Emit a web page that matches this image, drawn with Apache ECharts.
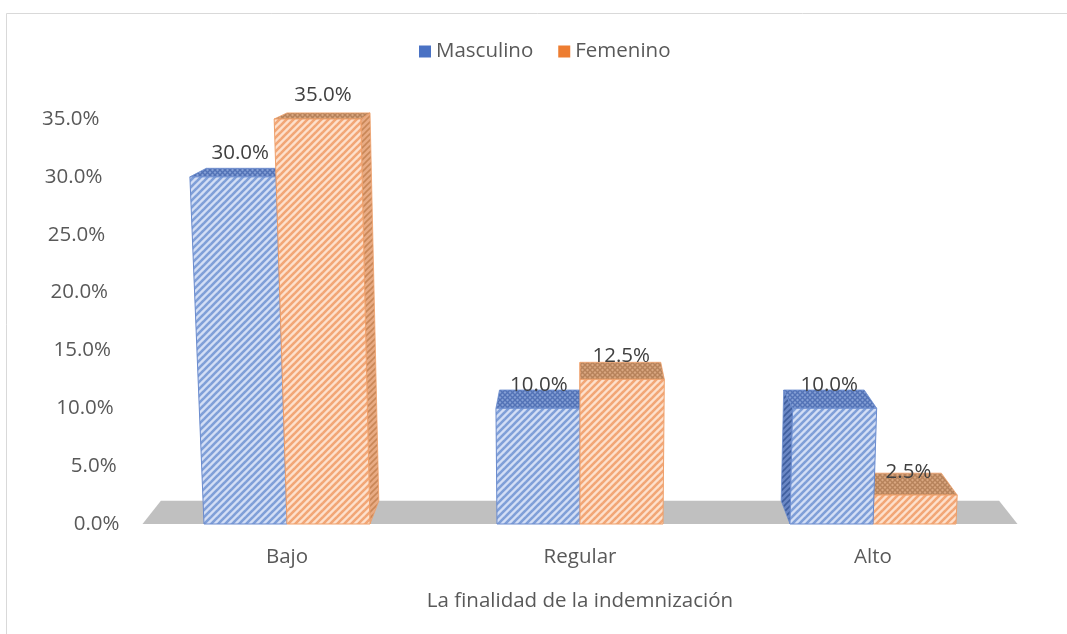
<!DOCTYPE html>
<html>
<head>
<meta charset="utf-8">
<script src="https://cdn.jsdelivr.net/npm/echarts@6/dist/echarts.min.js"></script>
<style>html,body{margin:0;padding:0;background:#fff;}#c{width:1067px;height:634px;}</style>
</head>
<body>
<div id="c"></div>
<script>
const categories = ['Bajo', 'Regular', 'Alto'];
const masculino = [30.0, 10.0, 10.0];
const femenino = [35.0, 12.5, 2.5];
const yTicks = [0, 5, 10, 15, 20, 25, 30, 35];
const yTickLabels = ['0.0%', '5.0%', '10.0%', '15.0%', '20.0%', '25.0%', '30.0%', '35.0%'];
const seriesNames = ['Masculino', 'Femenino'];
const xAxisTitle = 'La finalidad de la indemnización';

const FONT = '"Open Sans", sans-serif';
const FS = 20.5;

function makePattern(bg, fg, lw, size, cross) {
  const c = document.createElement('canvas');
  c.width = size; c.height = size;
  const g = c.getContext('2d');
  g.fillStyle = bg; g.fillRect(0, 0, size, size);
  g.strokeStyle = fg; g.lineWidth = lw;
  const line = (x1, y1, x2, y2) => { g.beginPath(); g.moveTo(x1, y1); g.lineTo(x2, y2); g.stroke(); };
  line(-1, size + 1, size + 1, -1);
  line(-1, 1, 1, -1);
  line(size - 1, size + 1, size + 1, size - 1);
  if (cross) {
    line(-1, -1, size + 1, size + 1);
    line(size - 1, -1, size + 1, 1);
    line(-1, size - 1, 1, size + 1);
  }
  return { image: c, repeat: 'repeat' };
}

const styles = [
  {
    front: makePattern('#d3def5', '#7f9fd8', 2.6, 7),
    top: makePattern('#849fd4', '#5272b6', 1.4, 5, true),
    side: makePattern('#6a87c4', '#3f5e9e', 1.6, 6),
    stroke: '#6a8bce',
    legend: '#4a72c4'
  },
  {
    front: makePattern('#fde0cc', '#f2a676', 2.6, 7),
    top: makePattern('#d9a680', '#b6825b', 1.4, 5, true),
    side: makePattern('#e8ab84', '#c98757', 1.6, 6),
    stroke: '#efa06a',
    legend: '#ed7d31'
  }
];

const PA = 0.000108;   // perspective spread per px of height
const DEPTH = 0.042;   // depth shrink toward vanishing point
const VPOFF = 550.6;   // vanishing point distance above floor

function projector(cs) {
  const cx = cs.x + cs.width / 2;
  const y0 = cs.y + cs.height;
  const vy = y0 - VPOFF;
  return function (x, y, z) {
    const f = 1 + PA * (y0 - y);
    let X = cx + (x - cx) * f;
    let Y = y;
    const k = DEPTH * z;
    X = X + (cx - X) * k;
    Y = Y + (vy - Y) * k;
    return [X, Y];
  };
}

function renderBar(params, api) {
  const cs = params.coordSys;
  const P = projector(cs);
  const cx = cs.x + cs.width / 2;
  const ci = api.value(0);
  const v = api.value(1);
  const si = params.seriesIndex;
  const st = styles[si];
  const base = api.coord([ci, 0]);
  const topc = api.coord([ci, v]);
  const band = api.size([1, 0])[0];
  const bw = band * 0.2833;
  const x0 = base[0] - bw + si * bw;
  const x1 = x0 + bw;
  const yb = base[1];
  const yt = topc[1];
  const mid = (x0 + x1) / 2;
  const dist = Math.abs(mid - cx);
  const zb = Math.round((2000 - dist) * 3);
  const sx = mid < cx ? x1 : x0;
  const children = [
    { type: 'polygon', z2: zb, shape: { points: [P(sx, yb, 0), P(sx, yb, 1), P(sx, yt, 1), P(sx, yt, 0)] },
      style: { fill: st.side, stroke: st.stroke, lineWidth: 0.8 } },
    { type: 'polygon', z2: zb + 1, shape: { points: [P(x0, yt, 0), P(x1, yt, 0), P(x1, yt, 1), P(x0, yt, 1)] },
      style: { fill: st.top, stroke: st.stroke, lineWidth: 0.8 } },
    { type: 'polygon', z2: zb + 2, shape: { points: [P(x0, yb, 0), P(x1, yb, 0), P(x1, yt, 0), P(x0, yt, 0)] },
      style: { fill: st.front, stroke: st.stroke, lineWidth: 1 } }
  ];
  const lp = P(mid, yt, 0.5);
  const backTop = P(mid, yt, 1)[1];
  children.push({
    type: 'text', z2: 20000,
    x: lp[0], y: backTop - v * 0.5,
    style: { text: v.toFixed(1) + '%', font: FS + 'px ' + FONT, fill: '#404040', align: 'center', verticalAlign: 'middle' }
  });
  return { type: 'group', children: children };
}

function renderFloor(params, api) {
  const cs = params.coordSys;
  const P = projector(cs);
  const y0 = cs.y + cs.height;
  const xl = cs.x + 2, xr = cs.x + cs.width - 2;
  return {
    type: 'polygon', z2: 0,
    shape: { points: [P(xl, y0, 0), P(xr, y0, 0), P(xr, y0, 1), P(xl, y0, 1)] },
    style: { fill: '#c0c0c0' }
  };
}

const rich = {};
yTicks.forEach((t, i) => { rich['r' + i] = { padding: [0, t / 35 * 20, 0, 0], fontSize: FS, fontFamily: FONT, color: '#595959' }; });

const chart = echarts.init(document.getElementById('c'));
chart.setOption({
  animation: false,
  backgroundColor: '#ffffff',
  graphic: [{
    type: 'rect', left: 4, top: 11, silent: true, z: -10,
    shape: { x: 0, y: 0, width: 1100, height: 700 },
    style: { fill: 'none', stroke: '#d9d9d9', lineWidth: 1 }
  }],
  legend: {
    left: 414, top: 36,
    itemWidth: 12, itemHeight: 12, itemGap: 25,
    icon: 'rect',
    textStyle: { fontFamily: FONT, fontSize: FS, color: '#595959' },
    data: seriesNames
  },
  grid: { left: 140.5, right: 47.5, top: 119, bottom: 110 },
  xAxis: {
    type: 'category',
    data: categories,
    axisLine: { show: false },
    axisTick: { show: false },
    axisLabel: { margin: 23, fontFamily: FONT, fontSize: FS, color: '#595959' },
    name: xAxisTitle,
    nameLocation: 'middle',
    nameGap: 67,
    nameTextStyle: { fontFamily: FONT, fontSize: FS, color: '#595959' }
  },
  yAxis: {
    type: 'value',
    min: 0, max: 35, interval: 5,
    splitLine: { show: false },
    axisLine: { show: false },
    axisTick: { show: false },
    axisLabel: {
      margin: 21,
      formatter: function (val) {
        const i = yTicks.indexOf(Math.round(val * 10) / 10);
        return '{r' + i + '|' + yTickLabels[i] + '}';
      },
      rich: rich
    }
  },
  series: [
    {
      name: seriesNames[0], type: 'custom', renderItem: renderBar,
      itemStyle: { color: styles[0].legend },
      data: masculino.map((v, i) => [i, v])
    },
    {
      name: seriesNames[1], type: 'custom', renderItem: renderBar,
      itemStyle: { color: styles[1].legend },
      data: femenino.map((v, i) => [i, v])
    },
    {
      name: 'floor', type: 'custom', renderItem: renderFloor, silent: true, z: 1,
      data: [[0, 0]]
    }
  ]
});
</script>
</body>
</html>
